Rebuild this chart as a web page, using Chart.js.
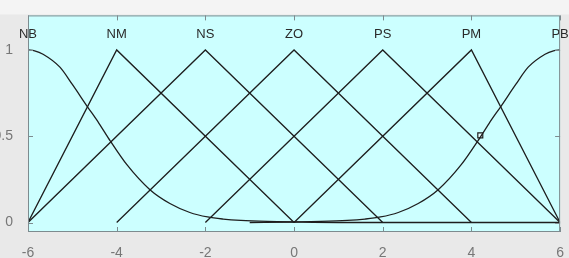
<!DOCTYPE html>
<html>
<head>
<meta charset="utf-8">
<script src="https://cdn.jsdelivr.net/npm/chart.js@4/dist/chart.umd.min.js"></script>
<style>
  html, body { margin: 0; padding: 0; background: #e9e9e9; }
  canvas { display: block; }
</style>
</head>
<body>
<canvas id="mf" width="569" height="258"></canvas>
<script>
// membership function names and where their labels sit
const mfNames = ['NB', 'NM', 'NS', 'ZO', 'PS', 'PM', 'PB'];
const mfPeaks = [-6, -4, -2, 0, 2, 4, 6];

// triangles
const nmX = [-6, -4, 0];
const nmY = [0, 1, 0];
const nsX = [-6, -2, 2];
const nsY = [0, 1, 0];
const zoX = [-4, 0, 4];
const zoY = [0, 1, 0];
const psX = [-2, 2, 6];
const psY = [0, 1, 0];
const pmX = [0, 4, 6];
const pmY = [0, 1, 0];

// the two shoulder curves
const nbX = [-6, -5.85, -5.66, -5.28, -5.0, -4.67, -4.4, -4.15, -3.77, -3.25, -2.8, -2.35, -1.95, -1.6, -1.2, -0.6, 0, 1, 6];
const nbY = [1, 0.995, 0.975, 0.9, 0.8, 0.675, 0.575, 0.475, 0.335, 0.19, 0.11, 0.058, 0.032, 0.02, 0.012, 0.006, 0.003, 0, 0];
const pbX = [-1, 0, 0.6, 1.2, 1.6, 1.95, 2.35, 2.8, 3.25, 3.77, 4.15, 4.4, 4.67, 5.0, 5.28, 5.66, 5.85, 6];
const pbY = [0, 0.003, 0.006, 0.012, 0.02, 0.032, 0.058, 0.11, 0.19, 0.335, 0.475, 0.575, 0.675, 0.8, 0.9, 0.975, 0.995, 1];

// small square marker
const markX = [4.2];
const markY = [0.505];

const xTicks = [-6, -4, -2, 0, 2, 4, 6];
const yTicks = [0, 0.5, 1];

const FONT = 'Liberation Sans, Arial, sans-serif';
const LINE = '#1e1e1e';
const FRAME = '#7d8b8f';

function pts(xs, ys) {
    return xs.map((x, i) => ({ x: x, y: ys[i] }));
}

function curve(xs, ys, smooth) {
    return {
        data: pts(xs, ys),
        showLine: true,
        borderColor: LINE,
        borderWidth: 1.3,
        pointRadius: 0,
        cubicInterpolationMode: smooth ? 'monotone' : 'default',
        tension: 0
    };
}

const framePlugin = {
    id: 'frame',
    beforeDraw(chart) {
        const { ctx, chartArea: a } = chart;
        ctx.save();
        ctx.fillStyle = '#e9e9e9';
        ctx.fillRect(0, 0, chart.width, chart.height);
        ctx.fillStyle = '#f4f4f4';
        ctx.fillRect(0, 0, chart.width, a.top - 1);
        ctx.fillStyle = '#ccffff';
        ctx.fillRect(a.left, a.top, a.right - a.left, a.bottom - a.top);
        ctx.restore();
    },
    afterDraw(chart) {
        const { ctx, chartArea: a } = chart;
        const xs = chart.scales.x, ys = chart.scales.y;
        ctx.save();

        // names above each peak
        ctx.fillStyle = '#2a2a2a';
        ctx.font = '13px ' + FONT;
        ctx.textAlign = 'center';
        ctx.textBaseline = 'middle';
        mfNames.forEach((n, i) => {
            ctx.fillText(n, xs.getPixelForValue(mfPeaks[i]), ys.getPixelForValue(1.09));
        });

        // box and inward ticks
        ctx.strokeStyle = FRAME;
        ctx.lineWidth = 1;
        ctx.strokeRect(a.left + 0.5, a.top + 0.5, a.right - a.left - 1, a.bottom - a.top - 1);
        ctx.beginPath();
        xTicks.forEach(v => {
            const px = Math.round(xs.getPixelForValue(v)) + 0.5;
            ctx.moveTo(px, a.bottom);
            ctx.lineTo(px, a.bottom - 5);
            ctx.moveTo(px, a.top);
            ctx.lineTo(px, a.top + 5);
        });
        yTicks.forEach(v => {
            const py = Math.round(ys.getPixelForValue(v)) + 0.5;
            ctx.moveTo(a.left, py);
            ctx.lineTo(a.left + 5, py);
            ctx.moveTo(a.right, py);
            ctx.lineTo(a.right - 5, py);
        });
        ctx.stroke();
        ctx.restore();
    }
};

new Chart(document.getElementById('mf'), {
    type: 'scatter',
    data: {
        datasets: [
            curve(nbX, nbY, true),
            curve(nmX, nmY),
            curve(nsX, nsY),
            curve(zoX, zoY),
            curve(psX, psY),
            curve(pmX, pmY),
            curve(pbX, pbY, true),
            {
                data: pts(markX, markY),
                pointStyle: 'rect',
                pointRadius: 3.5,
                pointBackgroundColor: '#e6ffff',
                pointBorderColor: LINE,
                pointBorderWidth: 1.2
            }
        ]
    },
    options: {
        responsive: false,
        animation: false,
        layout: { padding: { top: 9, right: 8, left: 0, bottom: 0 } },
        plugins: {
            legend: { display: false },
            tooltip: { enabled: false }
        },
        scales: {
            x: {
                type: 'linear',
                min: -6,
                max: 6,
                grid: { display: false },
                border: { display: false },
                afterBuildTicks: s => { s.ticks = xTicks.map(v => ({ value: v })); },
                afterFit: s => { s.height = 26; },
                ticks: {
                    padding: 5,
                    color: '#777777',
                    font: { family: FONT, size: 14 },
                    maxRotation: 0,
                    callback: v => String(v)
                }
            },
            y: {
                min: -0.055,
                max: 1.2,
                grid: { display: false },
                border: { display: false },
                afterBuildTicks: s => { s.ticks = yTicks.map(v => ({ value: v })); },
                afterFit: s => { s.width = 28; },
                ticks: {
                    padding: 7,
                    color: '#777777',
                    font: { family: FONT, size: 14 },
                    callback: v => String(v)
                }
            }
        }
    },
    plugins: [framePlugin]
});
</script>
</body>
</html>
